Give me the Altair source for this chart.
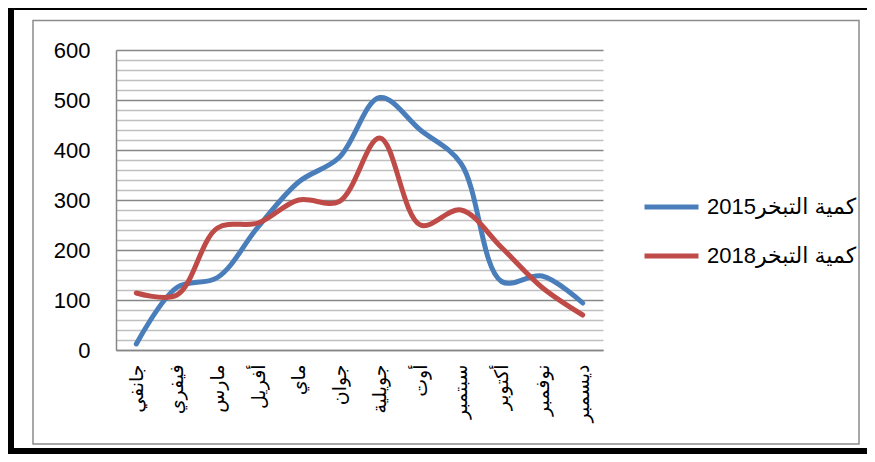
import altair as alt
import pandas as pd

months = ["جانفي", "فيفري", "مارس", "أفريل", "ماي", "جوان",
          "جويلية", "أوت", "سبتمبر", "أكتوبر", "نوفمبر", "ديسمبر"]
series_names = ["كمية التبخر2015", "كمية التبخر2018"]
values_2015 = [12, 125, 145, 246, 336, 385, 505, 440, 373, 137, 148, 94]
values_2018 = [114, 110, 244, 254, 300, 297, 424, 250, 280, 205, 125, 70]
colors = ["#4a7ebb", "#be4b48"]

rows = []
for name, vals in zip(series_names, [values_2015, values_2018]):
    for m, v in zip(months, vals):
        rows.append({"month": m, "value": v, "series": name})
df = pd.DataFrame(rows)

grid_values = list(range(0, 601, 20))

FONT = "Liberation Sans, Arial, DejaVu Sans"

lines = alt.Chart(df).mark_line(
    interpolate="catmull-rom", strokeWidth=5, strokeCap="round", strokeJoin="round"
).encode(
    x=alt.X("month:N", sort=months,
            scale=alt.Scale(type="point", padding=0.5),
            axis=alt.Axis(title=None, labelAngle=270, labelFontSize=19,
                          labelFont=FONT, labelColor="#000000",
                          ticks=False, tickSize=0, labelPadding=14,
                          domainColor="#868686", domainWidth=1.5,
                          grid=False, labelLimit=200)),
    y=alt.Y("value:Q", scale=alt.Scale(domain=[0, 600], nice=False),
            axis=alt.Axis(title=None, values=grid_values,
                          labelExpr="datum.value % 100 === 0 ? datum.label : ''",
                          labelFontSize=22, labelFont=FONT, labelColor="#000000",
                          ticks=False, tickSize=0, labelPadding=26,
                          domainColor="#868686", domainWidth=1.5,
                          grid=True,
                          gridColor={"condition": {"test": "datum.value % 100 === 0", "value": "#878787"}, "value": "#c0c0c0"},
                          gridWidth={"condition": {"test": "datum.value % 100 === 0", "value": 1.5}, "value": 1.6})),
    color=alt.Color("series:N",
                    scale=alt.Scale(domain=series_names, range=colors),
                    legend=alt.Legend(title=None, orient="none", legendX=526, legendY=132.5,
                                      symbolType="stroke", symbolSize=2916,
                                      symbolStrokeWidth=5, clipHeight=49,
                                      rowPadding=0, padding=0, labelOffset=6,
                                      labelFontSize=22, labelFont=FONT,
                                      labelColor="#000000", labelLimit=400)),
)

one = alt.Data(values=[{"a": 1}])

inner_frame = alt.Chart(one).mark_rect(
    fill=None, stroke="#8c8c8c", strokeWidth=1.5
).encode(
    x=alt.value(-83), x2=alt.value(743), y=alt.value(-29.5), y2=alt.value(394)
)

outer_frame = alt.Chart(one).mark_rect(
    fill=None, stroke="#000000", strokeWidth=6
).encode(
    x=alt.value(-105), x2=alt.value(765), y=alt.value(-43), y2=alt.value(401)
)

chart = alt.layer(outer_frame, inner_frame, lines).properties(
    width=487, height=300,
    autosize="none",
    padding={"left": 108, "top": 42, "right": 264, "bottom": 104},
    background="#ffffff",
).configure_view(stroke=None)

chart.save("out.html", embed_options={"renderer": "svg", "actions": False})
